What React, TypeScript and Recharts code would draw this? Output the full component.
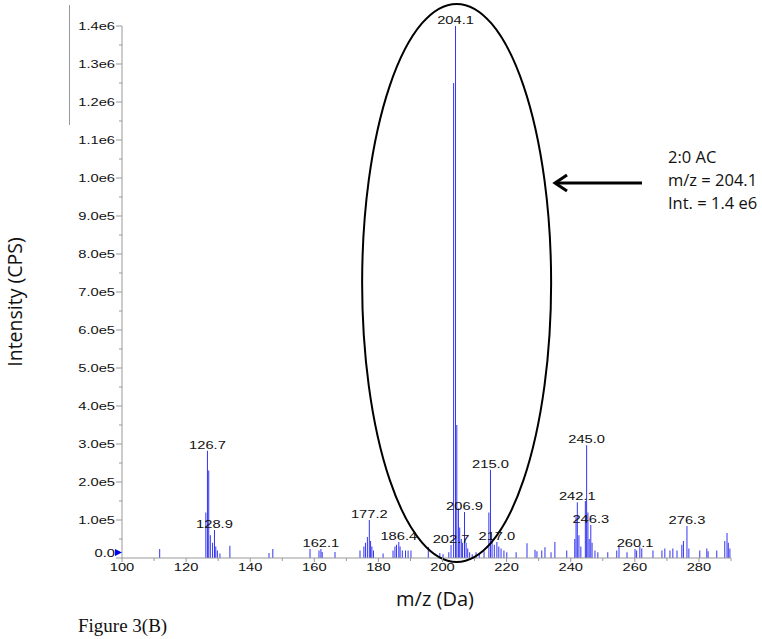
import React from 'react';
import { BarChart, Bar, XAxis, YAxis, LabelList, ReferenceDot } from 'recharts';

// m/z of each stick in the spectrum
const mzValues = [
  111.8, 126.2, 126.7, 127.1, 127.6, 128.3, 128.9, 129.3, 129.8, 130.6,
  133.7, 145.9, 147.1, 158.7, 161.5, 162.1, 162.5, 166.5, 174.3, 175.5,
  176.0, 176.6, 177.2, 177.6, 178.0, 178.5, 181.5, 184.6, 185.2, 185.7,
  186.4, 186.8, 187.5, 188.5, 189.3, 190.2, 195.6, 199.2, 200.2, 202.0,
  202.7, 203.5, 204.1, 204.5, 205.0, 205.4, 205.9, 206.3, 206.9, 207.4,
  207.9, 208.5, 209.3, 210.5, 211.5, 213.0, 214.5, 215.0, 215.5, 216.2,
  217.0, 217.6, 218.3, 219.2, 220.1, 223.0, 226.4, 228.9, 229.5, 231.0,
  232.0, 233.9, 235.1, 238.8, 241.3, 241.7, 242.1, 242.6, 243.2, 244.6,
  245.0, 245.4, 245.8, 246.3, 246.7, 247.6, 248.5, 251.6, 254.4, 255.1,
  257.6, 260.1, 260.6, 261.6, 262.2, 265.7, 268.5, 269.4, 271.0, 271.9,
  273.2, 274.7, 275.2, 276.3, 276.9, 280.3, 282.5, 282.9, 285.6, 288.1,
  288.8, 289.2, 289.7,
];

// intensity (CPS) for each m/z above
const intensities = [
  24000, 120000, 282000, 230000, 60000, 40000, 74000, 30000, 20000, 12000,
  32000, 13000, 24000, 24000, 20000, 24000, 16000, 16000, 20000, 30000,
  40000, 55000, 100000, 45000, 30000, 20000, 12000, 20000, 30000, 35000,
  42000, 30000, 20000, 20000, 20000, 20000, 29000, 13000, 10000, 15000,
  34000, 1250000, 1400000, 350000, 130000, 80000, 50000, 40000, 121000, 40000,
  25000, 15000, 10000, 15000, 12000, 18000, 120000, 232000, 50000, 35000,
  42000, 30000, 25000, 20000, 15000, 15000, 39000, 22000, 18000, 20000,
  28000, 15000, 42000, 20000, 50000, 110000, 147000, 60000, 30000, 150000,
  297000, 120000, 50000, 87000, 40000, 20000, 15000, 15000, 20000, 30000,
  15000, 24000, 20000, 30000, 25000, 20000, 20000, 25000, 20000, 25000,
  20000, 35000, 45000, 84000, 25000, 20000, 25000, 18000, 20000, 45000,
  66000, 40000, 25000,
];

const peakLabels = [
  '126.7', '128.9', '162.1', '177.2', '186.4', '202.7', '204.1', '206.9',
  '215.0', '217.0', '242.1', '245.0', '246.3', '260.1', '276.3',
];

const xTicks = [100, 110, 120, 130, 140, 150, 160, 170, 180, 190, 200, 210, 220, 230, 240, 250, 260, 270, 280, 290];
const yTicks = Array.from({ length: 29 }, (_, i) => i * 50000);

const data = mzValues.map((mz, i) => {
  const key = mz.toFixed(1);
  return { mz, intensity: intensities[i], label: peakLabels.includes(key) ? key : undefined };
});

const STRETCH = 'scale(1.4 1)';

const formatY = (v: number) => {
  if (v === 0) return '0.0';
  if (v >= 1000000) return (v / 1000000).toFixed(1) + 'e6';
  return (v / 100000).toFixed(1) + 'e5';
};

const YTick = ({ x, y, payload }: any) => {
  const v = payload.value;
  const major = v % 100000 === 0;
  return (
    <g>
      <line x1={x - (major ? 6 : 3)} x2={x} y1={y} y2={y} stroke="#999" />
      {major && (
        <text
          transform={`translate(${x - 7} ${y + (v === 0 ? -1 : 4)}) ${STRETCH}`}
          textAnchor="end"
          fontFamily="Liberation Sans, Arial, sans-serif"
          fontSize={10.5}
          fill="#111"
        >
          {formatY(v)}
        </text>
      )}
    </g>
  );
};

const XTick = ({ x, y, payload }: any) => {
  const v = payload.value;
  const major = v % 20 === 0;
  return (
    <g>
      <line x1={x} x2={x} y1={y} y2={y + (major ? 4 : 3)} stroke="#999" />
      {major && (
        <text
          transform={`translate(${x} ${y + 13}) ${STRETCH}`}
          textAnchor="middle"
          fontFamily="Liberation Sans, Arial, sans-serif"
          fontSize={10.5}
          fill="#111"
        >
          {v}
        </text>
      )}
    </g>
  );
};

const PeakLabel = (props: any) => {
  const { x, y, width, value } = props;
  if (!value) return null;
  return (
    <text
      transform={`translate(${x + width / 2} ${y - 2}) ${STRETCH}`}
      textAnchor="middle"
      fontFamily="Liberation Sans, Arial, sans-serif"
      fontSize={10.5}
      fill="#111"
    >
      {value}
    </text>
  );
};

const Marker = ({ cx, cy }: any) => (
  <polygon points={`${cx - 7},${cy - 9} ${cx - 7},${cy - 2} ${cx},${cy - 5.5}`} fill="#0000ee" />
);

const Ring = ({ cx, cy }: any) => (
  <ellipse cx={cx} cy={cy} rx={94.5} ry={279} fill="none" stroke="#000" strokeWidth={2} />
);

export default function App() {
  return (
    <div style={{ position: 'absolute', left: 0, top: 0, width: 762, height: 639, background: '#fff' }}>
      <BarChart
        width={762}
        height={639}
        data={data}
        margin={{ top: 26, right: 31, bottom: 51, left: 0 }}
      >
        <XAxis
          dataKey="mz"
          type="number"
          domain={[100, 290]}
          ticks={xTicks}
          interval={0}
          height={30}
          tickSize={0}
          tickMargin={0}
          tickLine={false}
          stroke="#999"
          tick={<XTick />}
        />
        <YAxis
          type="number"
          domain={[0, 1400000]}
          ticks={yTicks}
          interval={0}
          width={122}
          tickSize={0}
          tickMargin={0}
          tickLine={false}
          stroke="#999"
          tick={<YTick />}
        />
        <Bar dataKey="intensity" fill="#3434f0" barSize={1} isAnimationActive={false}>
          <LabelList dataKey="label" content={<PeakLabel />} />
        </Bar>
        <ReferenceDot x={204.4} y={724000} ifOverflow="visible" shape={<Ring />} />
        <ReferenceDot x={100} y={0} ifOverflow="visible" shape={<Marker />} />
      </BarChart>

      <svg
        width={762}
        height={639}
        style={{ position: 'absolute', left: 0, top: 0, pointerEvents: 'none' }}
      >
        <line x1={69.5} x2={69.5} y1={5} y2={125} stroke="#999" />
        <line x1={642} x2={557} y1={183} y2={183} stroke="#000" strokeWidth={3} />
        <polyline points="567,175 555,183 567,191" fill="none" stroke="#000" strokeWidth={3} />
        <g fontFamily="Open Sans, Noto Sans, sans-serif" fontSize={16.5} fill="#111">
          <text x={668} y={163}>2:0 AC</text>
          <text x={668} y={186}>m/z = 204.1</text>
          <text x={668} y={209}>Int. = 1.4 e6</text>
        </g>
        <text
          x={22}
          y={302}
          transform="rotate(-90 22 302)"
          textAnchor="middle"
          fontFamily="Open Sans, Noto Sans, sans-serif"
          fontSize={19.5}
          fill="#111"
        >
          Intensity (CPS)
        </text>
        <text x={435} y={606} textAnchor="middle" fontFamily="Open Sans, Noto Sans, sans-serif" fontSize={20} fill="#111">
          m/z (Da)
        </text>
        <text x={78} y={632} fontFamily="Liberation Serif, Times New Roman, serif" fontSize={19} fill="#111">
          Figure 3(B)
        </text>
      </svg>
    </div>
  );
}
